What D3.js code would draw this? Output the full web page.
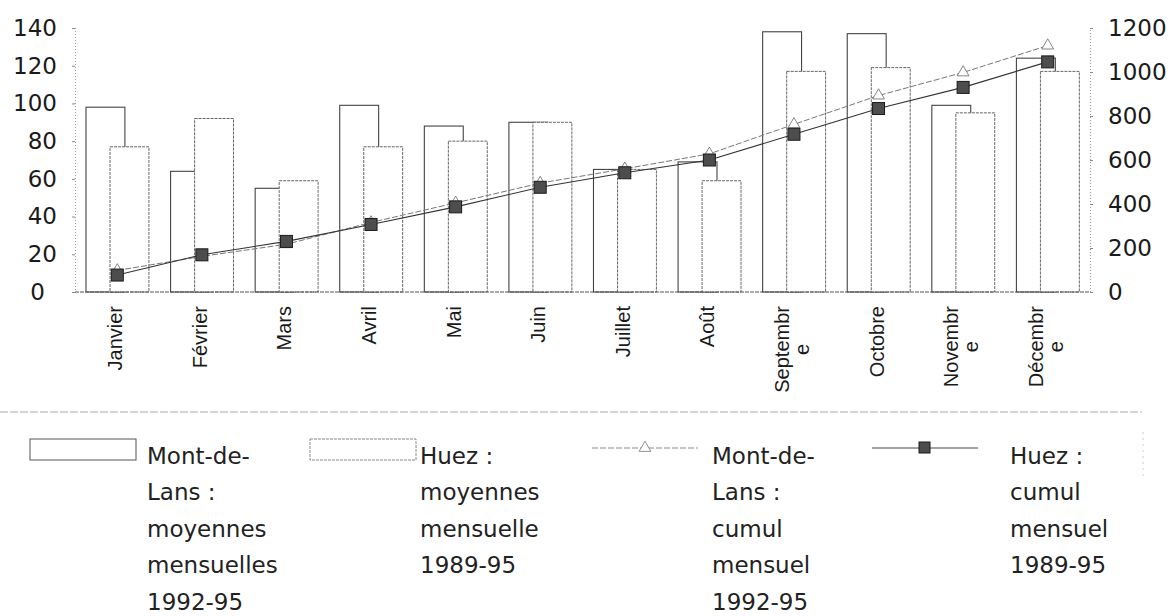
<!DOCTYPE html>
<html>
<head>
<meta charset="utf-8">
<script src="https://cdnjs.cloudflare.com/ajax/libs/d3/7.8.5/d3.min.js"></script>
<style>
  body { margin: 0; background: #fff; }
  svg { display: block; }
</style>
</head>
<body>
<div id="main"></div>
<script>
var months = ["Janvier", "Février", "Mars", "Avril", "Mai", "Juin", "Juillet", "Août",
  "Septembr\ne", "Octobre", "Novembr\ne", "Décembr\ne"];
var montMoy = [98, 64, 55, 99, 88, 90, 65, 69, 138, 137, 99, 124];
var huezMoy = [77, 92, 59, 77, 80, 90, 65, 59, 117, 119, 95, 117];
var montCumul = [98, 162, 217, 316, 405, 495, 560, 628, 762, 893, 998, 1120];
var huezCumul = [77, 169, 230, 307, 387, 476, 542, 600, 717, 834, 930, 1046];
var leftTicks = [0, 20, 40, 60, 80, 100, 120, 140];
var rightTicks = [0, 200, 400, 600, 800, 1000, 1200];
var legendLabels = [
  ["Mont-de-", "Lans :", "moyennes", "mensuelles", "1992-95"],
  ["Huez :", "moyennes", "mensuelle", "1989-95"],
  ["Mont-de-", "Lans :", "cumul", "mensuel", "1992-95"],
  ["Huez :", "cumul", "mensuel", "1989-95"]
];

var width = 1174,
  height = 616;

var svg = d3
  .select("#main")
  .append("svg")
  .attr("width", width)
  .attr("height", height);

var x = d3.scaleBand().domain(d3.range(months.length)).range([75, 1090]);
var yLeft = d3.scaleLinear().domain([0, 140]).range([292, 28]);
var yRight = d3.scaleLinear().domain([0, 1200]).range([292, 28]);
var bw = x.bandwidth();

// axes
var left = svg
  .append("g")
  .attr("transform", "translate(75,0)")
  .call(d3.axisLeft(yLeft).tickValues(leftTicks).tickSize(3).tickPadding(15));

var right = svg
  .append("g")
  .attr("transform", "translate(1090,0)")
  .call(
    d3.axisRight(yRight)
      .tickValues(rightTicks)
      .tickFormat(d3.format("d"))
      .tickSize(3)
      .tickPadding(15)
  );

[left, right].forEach(function(g) {
  g.select(".domain").attr("stroke", "#999").attr("stroke-dasharray", "1,2");
  g.selectAll(".tick line").attr("stroke", "#888");
  g.selectAll(".tick text")
    .style("font-family", "DejaVu Sans")
    .style("font-size", "23px")
    .attr("fill", "#1a1a1a");
});
left.selectAll(".tick text").filter(function(d) { return d === 0; }).attr("dx", -12);

// bars
svg
  .append("g")
  .selectAll("rect")
  .data(montMoy)
  .enter()
  .append("rect")
  .attr("x", function(d, i) { return x(i) + bw * 0.13; })
  .attr("y", function(d) { return yLeft(d); })
  .attr("width", bw * 0.46)
  .attr("height", function(d) { return yLeft(0) - yLeft(d); })
  .attr("fill", "#fff")
  .attr("stroke", "#444")
  .attr("stroke-width", 1.1);

svg
  .append("g")
  .selectAll("rect")
  .data(huezMoy)
  .enter()
  .append("rect")
  .attr("x", function(d, i) { return x(i) + bw * 0.414; })
  .attr("y", function(d) { return yLeft(d); })
  .attr("width", bw * 0.46)
  .attr("height", function(d) { return yLeft(0) - yLeft(d); })
  .attr("fill", "#fff")
  .attr("stroke", "#666")
  .attr("stroke-width", 1)
  .attr("stroke-dasharray", "3,1");

// baseline
svg
  .append("line")
  .attr("x1", 75)
  .attr("x2", 1090)
  .attr("y1", yLeft(0))
  .attr("y2", yLeft(0))
  .attr("stroke", "#555")
  .attr("stroke-dasharray", "4,1");

// cumulative lines
var cx = function(i) { return x(i) + bw / 2; };

var line = d3
  .line()
  .x(function(d, i) { return cx(i); })
  .y(function(d) { return yRight(d); });

svg
  .append("path")
  .datum(montCumul)
  .attr("d", line)
  .attr("fill", "none")
  .attr("stroke", "#777")
  .attr("stroke-width", 1)
  .attr("stroke-dasharray", "6,2");

svg
  .append("path")
  .datum(huezCumul)
  .attr("d", line)
  .attr("fill", "none")
  .attr("stroke", "#333")
  .attr("stroke-width", 1.1);

var tri = d3.symbol().type(d3.symbolTriangle).size(60);

svg
  .append("g")
  .selectAll("path")
  .data(montCumul)
  .enter()
  .append("path")
  .attr("d", tri)
  .attr("transform", function(d, i) {
    return "translate(" + cx(i) + "," + yRight(d) + ")";
  })
  .attr("fill", "#fff")
  .attr("stroke", "#666")
  .attr("stroke-width", 0.8);

svg
  .append("g")
  .selectAll("rect")
  .data(huezCumul)
  .enter()
  .append("rect")
  .attr("x", function(d, i) { return cx(i) - 6; })
  .attr("y", function(d) { return yRight(d) - 6; })
  .attr("width", 12)
  .attr("height", 12)
  .attr("fill", "#4d4d4d")
  .attr("stroke", "#1a1a1a")
  .attr("stroke-width", 1);

// month labels, rotated
var labels = svg
  .append("g")
  .selectAll("g")
  .data(months)
  .enter()
  .append("g")
  .attr("transform", function(d, i) {
    return "translate(" + cx(i) + "," + yLeft(0) + ") rotate(-90)";
  });

labels.each(function(d) {
  var g = d3.select(this);
  var parts = d.split("\n");
  var first = g
    .append("text")
    .attr("x", -14)
    .attr("y", parts.length > 1 ? -5 : 5)
    .attr("text-anchor", "end")
    .style("font-family", "Liberation Sans")
    .style("font-size", "20px")
    .attr("fill", "#1a1a1a")
    .text(parts[0]);
  if (parts.length > 1) {
    var w = first.node().getComputedTextLength();
    g.append("text")
      .attr("x", -14 - w / 2)
      .attr("y", 15)
      .attr("text-anchor", "middle")
      .style("font-family", "Liberation Sans")
      .style("font-size", "20px")
      .attr("fill", "#1a1a1a")
      .text(parts[1]);
  }
});

// separator
svg
  .append("line")
  .attr("x1", 0)
  .attr("x2", 1142)
  .attr("y1", 412)
  .attr("y2", 412)
  .attr("stroke", "#aaa")
  .attr("stroke-dasharray", "8,2");

svg
  .append("line")
  .attr("x1", 1143)
  .attr("x2", 1143)
  .attr("y1", 432)
  .attr("y2", 477)
  .attr("stroke", "#ccc")
  .attr("stroke-dasharray", "2,4");

// legend
var symX = [30, 310, 592, 872],
  symW = 106,
  textX = [147, 420, 712, 1010];

svg
  .append("rect")
  .attr("x", symX[0]).attr("y", 439).attr("width", symW).attr("height", 21)
  .attr("fill", "#fff").attr("stroke", "#555").attr("stroke-width", 1);

svg
  .append("rect")
  .attr("x", symX[1]).attr("y", 439).attr("width", symW).attr("height", 21)
  .attr("fill", "#fff").attr("stroke", "#888").attr("stroke-dasharray", "3,1");

svg
  .append("line")
  .attr("x1", symX[2]).attr("x2", symX[2] + symW).attr("y1", 448).attr("y2", 448)
  .attr("stroke", "#888").attr("stroke-dasharray", "6,2");

svg
  .append("path")
  .attr("d", tri)
  .attr("transform", "translate(" + (symX[2] + symW / 2) + ",448)")
  .attr("fill", "#fff").attr("stroke", "#777").attr("stroke-width", 0.8);

svg
  .append("line")
  .attr("x1", symX[3]).attr("x2", symX[3] + symW).attr("y1", 448).attr("y2", 448)
  .attr("stroke", "#444");

svg
  .append("rect")
  .attr("x", symX[3] + symW / 2 - 6).attr("y", 442).attr("width", 11).attr("height", 11)
  .attr("fill", "#4d4d4d").attr("stroke", "#1a1a1a");

legendLabels.forEach(function(lines, k) {
  svg
    .append("g")
    .selectAll("text")
    .data(lines)
    .enter()
    .append("text")
    .attr("x", textX[k])
    .attr("y", function(d, i) { return 464 + i * 36.4; })
    .style("font-family", "DejaVu Sans")
    .style("font-size", "23px")
    .attr("fill", "#222")
    .text(function(d) { return d; });
});
</script>
</body>
</html>
